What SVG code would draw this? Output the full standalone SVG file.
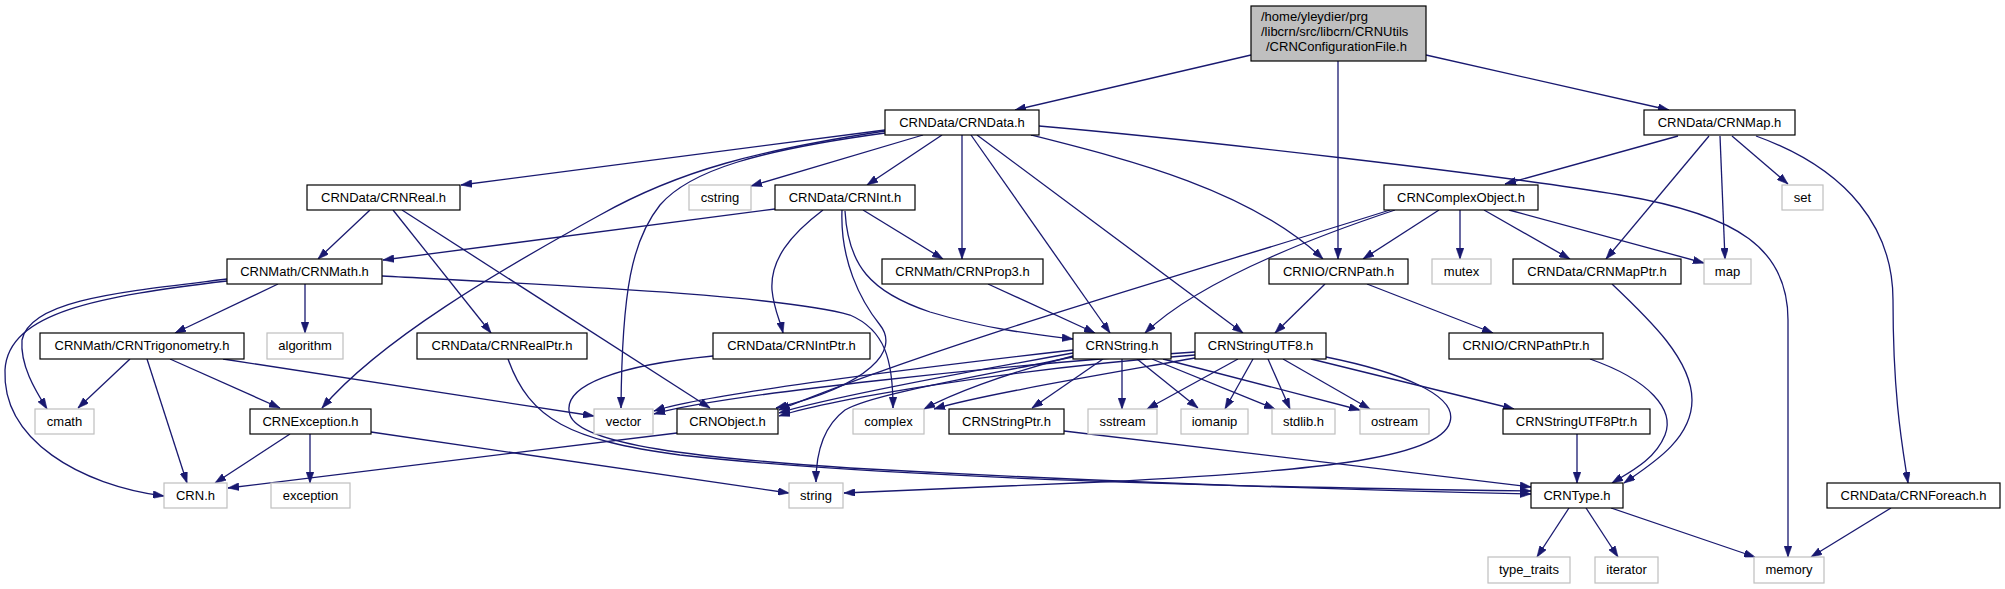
<svg xmlns="http://www.w3.org/2000/svg" width="2005" height="589" viewBox="0 0 2005 589">
<style>
  .n rect { fill: #ffffff; stroke: #000000; stroke-width: 1.2; }
  .x rect { fill: #ffffff; stroke: #bfbfbf; stroke-width: 1.2; }
  .top rect { fill: #bfbfbf; stroke: #000000; stroke-width: 1.2; }
  text { font-family: "Liberation Sans", Arial, sans-serif; font-size: 13px; fill: #000000; text-anchor: middle; }
  .top text { text-anchor: start; }
  #edges path { fill: none; stroke: #191970; stroke-width: 1.3; marker-end: url(#arr); }
</style>
<defs>
  <marker id="arr" viewBox="0 0 10 7" refX="10" refY="3.5" markerWidth="11" markerHeight="7.7" markerUnits="userSpaceOnUse" orient="auto">
    <path d="M0,0 L10,3.5 L0,7 z" fill="#191970" stroke="#191970" stroke-width="0.5"/>
  </marker>
</defs>
<rect width="2005" height="589" fill="#ffffff"/>
<g id="edges">
  <!-- top node -->
  <path d="M1251,55 L1015,110"/>
  <path d="M1338,61 L1338,259"/>
  <path d="M1426,55 L1669,110"/>
  <!-- CRNData.h -->
  <path d="M885,130 L461,185"/>
  <path d="M923,135 L751,186"/>
  <path d="M942,135 L867,185"/>
  <path d="M962,135 L962,259"/>
  <path d="M971,135 L1110,333"/>
  <path d="M977,135 L1243,333"/>
  <path d="M1031,135 C1130,160 1250,190 1323,259"/>
  <path d="M1039,126 C1200,140 1500,175 1620,195 C1740,215 1788,250 1788,320 L1788,557"/>
  <path d="M885,133 C760,150 690,170 660,205 C632,240 622,290 621,408"/>
  <path d="M885,131 C760,150 680,170 600,215 C500,270 380,340 322,408"/>
  <!-- CRNMap.h -->
  <path d="M1678,136 L1505,184"/>
  <path d="M1709,136 L1606,259"/>
  <path d="M1720,136 L1725,259"/>
  <path d="M1732,136 L1788,184"/>
  <path d="M1756,136 C1850,170 1893,230 1893,300 C1893,400 1903,450 1908,483"/>
  <!-- CRNComplexObject.h -->
  <path d="M1439,210 L1363,259"/>
  <path d="M1460,210 L1460,259"/>
  <path d="M1484,210 L1570,259"/>
  <path d="M1509,210 L1704,263"/>
  <path d="M1395,210 C1320,235 1200,280 1145,333"/>
  <path d="M1390,210 C1200,270 950,340 779,410"/>
  <!-- CRNReal.h -->
  <path d="M370,210 L318,259"/>
  <path d="M393,210 L491,333"/>
  <path d="M402,210 L710,408"/>
  <!-- CRNInt.h -->
  <path d="M775,209 L383,260"/>
  <path d="M863,210 L943,259"/>
  <path d="M823,210 C790,235 770,260 772,290 C774,310 780,320 783,333"/>
  <path d="M845,211 C848,265 870,292 930,312 C990,330 1040,335 1073,339"/>
  <path d="M842,210 C840,260 860,300 880,325 C900,350 870,385 776,408"/>
  <!-- CRNMath.h -->
  <path d="M278,284 L175,333"/>
  <path d="M305,284 L305,333"/>
  <path d="M227,279 C120,292 30,300 22,340 C20,365 35,390 47,409"/>
  <path d="M227,281 C100,296 8,312 5,370 C2,440 80,485 164,496"/>
  <path d="M382,276 C550,285 780,295 850,315 C885,330 893,360 893,408"/>
  <!-- CRNProp3.h -->
  <path d="M988,284 L1095,333"/>
  <!-- CRNIO/CRNPath.h -->
  <path d="M1325,284 L1275,333"/>
  <path d="M1367,284 L1493,333"/>
  <!-- CRNMapPtr.h -->
  <path d="M1612,284 C1650,320 1692,360 1692,400 C1692,440 1650,465 1624,483"/>
  <!-- CRNTrigonometry.h -->
  <path d="M130,359 L78,408"/>
  <path d="M147,359 L187,483"/>
  <path d="M170,359 L280,408"/>
  <path d="M223,359 L594,416"/>
  <!-- CRNRealPtr.h / CRNIntPtr.h -->
  <path d="M508,359 C530,420 570,440 680,455 C900,480 1300,488 1531,491"/>
  <path d="M713,356 C620,365 560,385 570,415 C580,445 700,458 850,468 C1100,482 1350,490 1531,494"/>
  <!-- CRNString.h -->
  <path d="M1073,350 C900,370 700,395 654,411"/>
  <path d="M1073,353 C950,375 820,400 779,413"/>
  <path d="M1073,356 C1000,375 950,395 924,409"/>
  <path d="M1103,359 L1032,408"/>
  <path d="M1122,359 L1122,409"/>
  <path d="M1137,359 L1198,408"/>
  <path d="M1152,359 L1275,409"/>
  <path d="M1163,359 L1360,410"/>
  <path d="M1073,357 C960,380 870,395 845,410 C825,425 816,450 816,482"/>
  <!-- CRNStringUTF8.h -->
  <path d="M1195,352 C1000,365 720,395 654,414"/>
  <path d="M1195,355 C1000,370 830,400 779,416"/>
  <path d="M1195,358 C1100,375 980,395 934,409"/>
  <path d="M1238,359 L1147,409"/>
  <path d="M1253,359 L1225,409"/>
  <path d="M1268,359 L1290,409"/>
  <path d="M1283,359 L1370,409"/>
  <path d="M1311,359 L1514,409"/>
  <path d="M1326,357 C1400,372 1458,395 1450,422 C1440,460 1300,472 1100,482 L844,493"/>
  <!-- CRNPathPtr.h -->
  <path d="M1590,359 C1650,380 1675,410 1665,435 C1655,460 1630,472 1612,483"/>
  <!-- CRNException.h -->
  <path d="M290,434 L215,483"/>
  <path d="M310,434 L310,483"/>
  <path d="M371,432 L789,493"/>
  <!-- CRNObject.h -->
  <path d="M677,433 L228,488"/>
  <!-- CRNStringPtr.h / CRNStringUTF8Ptr.h -->
  <path d="M1064,431 L1531,487"/>
  <path d="M1577,434 L1577,483"/>
  <!-- CRNType.h -->
  <path d="M1569,508 L1537,557"/>
  <path d="M1586,508 L1618,557"/>
  <path d="M1611,508 L1755,557"/>
  <!-- CRNForeach.h -->
  <path d="M1891,508 L1811,557"/>
</g>
<g id="node_top" class="top">
  <rect x="1251" y="6" width="175" height="55"/>
  <text x="1261" y="21">/home/yleydier/prg</text>
  <text x="1261" y="36">/libcrn/src/libcrn/CRNUtils</text>
  <text x="1266" y="51">/CRNConfigurationFile.h</text>
</g>
<g id="node_CRNData" class="n"><rect x="885" y="110" width="154" height="25"/><text x="962" y="127">CRNData/CRNData.h</text></g>
<g id="node_CRNMap" class="n"><rect x="1644" y="110" width="151" height="25"/><text x="1719.5" y="127">CRNData/CRNMap.h</text></g>
<g id="node_CRNReal" class="n"><rect x="307" y="185" width="153" height="25"/><text x="383.5" y="202">CRNData/CRNReal.h</text></g>
<g id="node_cstring" class="x"><rect x="689" y="185" width="62" height="25"/><text x="720" y="202">cstring</text></g>
<g id="node_CRNInt" class="n"><rect x="775" y="185" width="140" height="25"/><text x="845" y="202">CRNData/CRNInt.h</text></g>
<g id="node_CRNComplexObject" class="n"><rect x="1384" y="185" width="154" height="25"/><text x="1461" y="202">CRNComplexObject.h</text></g>
<g id="node_set" class="x"><rect x="1782" y="185" width="41" height="25"/><text x="1802.5" y="202">set</text></g>
<g id="node_CRNMath" class="n"><rect x="227" y="259" width="155" height="25"/><text x="304.5" y="276">CRNMath/CRNMath.h</text></g>
<g id="node_CRNProp3" class="n"><rect x="882" y="259" width="161" height="25"/><text x="962.5" y="276">CRNMath/CRNProp3.h</text></g>
<g id="node_CRNPath" class="n"><rect x="1269" y="259" width="139" height="25"/><text x="1338.5" y="276">CRNIO/CRNPath.h</text></g>
<g id="node_mutex" class="x"><rect x="1432" y="259" width="59" height="25"/><text x="1461.5" y="276">mutex</text></g>
<g id="node_CRNMapPtr" class="n"><rect x="1513" y="259" width="168" height="25"/><text x="1597" y="276">CRNData/CRNMapPtr.h</text></g>
<g id="node_map" class="x"><rect x="1704" y="259" width="47" height="25"/><text x="1727.5" y="276">map</text></g>
<g id="node_CRNTrigonometry" class="n"><rect x="40" y="333" width="204" height="26"/><text x="142" y="350">CRNMath/CRNTrigonometry.h</text></g>
<g id="node_algorithm" class="x"><rect x="267" y="333" width="76" height="26"/><text x="305" y="350">algorithm</text></g>
<g id="node_CRNRealPtr" class="n"><rect x="417" y="333" width="170" height="26"/><text x="502" y="350">CRNData/CRNRealPtr.h</text></g>
<g id="node_CRNIntPtr" class="n"><rect x="713" y="333" width="157" height="26"/><text x="791.5" y="350">CRNData/CRNIntPtr.h</text></g>
<g id="node_CRNString" class="n"><rect x="1073" y="333" width="98" height="26"/><text x="1122" y="350">CRNString.h</text></g>
<g id="node_CRNStringUTF8" class="n"><rect x="1195" y="333" width="131" height="26"/><text x="1260.5" y="350">CRNStringUTF8.h</text></g>
<g id="node_CRNPathPtr" class="n"><rect x="1449" y="333" width="154" height="26"/><text x="1526" y="350">CRNIO/CRNPathPtr.h</text></g>
<g id="node_cmath" class="x"><rect x="35" y="409" width="59" height="25"/><text x="64.5" y="426">cmath</text></g>
<g id="node_CRNException" class="n"><rect x="250" y="409" width="121" height="25"/><text x="310.5" y="426">CRNException.h</text></g>
<g id="node_vector" class="x"><rect x="594" y="409" width="59" height="25"/><text x="623.5" y="426">vector</text></g>
<g id="node_CRNObject" class="n"><rect x="677" y="409" width="101" height="25"/><text x="727.5" y="426">CRNObject.h</text></g>
<g id="node_complex" class="x"><rect x="853" y="409" width="71" height="25"/><text x="888.5" y="426">complex</text></g>
<g id="node_CRNStringPtr" class="n"><rect x="949" y="409" width="115" height="25"/><text x="1006.5" y="426">CRNStringPtr.h</text></g>
<g id="node_sstream" class="x"><rect x="1088" y="409" width="69" height="25"/><text x="1122.5" y="426">sstream</text></g>
<g id="node_iomanip" class="x"><rect x="1181" y="409" width="67" height="25"/><text x="1214.5" y="426">iomanip</text></g>
<g id="node_stdlib" class="x"><rect x="1272" y="409" width="63" height="25"/><text x="1303.5" y="426">stdlib.h</text></g>
<g id="node_ostream" class="x"><rect x="1360" y="409" width="69" height="25"/><text x="1394.5" y="426">ostream</text></g>
<g id="node_CRNStringUTF8Ptr" class="n"><rect x="1503" y="409" width="147" height="25"/><text x="1576.5" y="426">CRNStringUTF8Ptr.h</text></g>
<g id="node_CRN" class="x"><rect x="164" y="483" width="63" height="25"/><text x="195.5" y="500">CRN.h</text></g>
<g id="node_exception" class="x"><rect x="271" y="483" width="79" height="25"/><text x="310.5" y="500">exception</text></g>
<g id="node_string" class="x"><rect x="789" y="483" width="54" height="25"/><text x="816" y="500">string</text></g>
<g id="node_CRNType" class="n"><rect x="1531" y="483" width="92" height="25"/><text x="1577" y="500">CRNType.h</text></g>
<g id="node_CRNForeach" class="n"><rect x="1827" y="483" width="173" height="25"/><text x="1913.5" y="500">CRNData/CRNForeach.h</text></g>
<g id="node_type_traits" class="x"><rect x="1488" y="557" width="82" height="26"/><text x="1529" y="574">type_traits</text></g>
<g id="node_iterator" class="x"><rect x="1595" y="557" width="63" height="26"/><text x="1626.5" y="574">iterator</text></g>
<g id="node_memory" class="x"><rect x="1754" y="557" width="70" height="26"/><text x="1789" y="574">memory</text></g>
</svg>
